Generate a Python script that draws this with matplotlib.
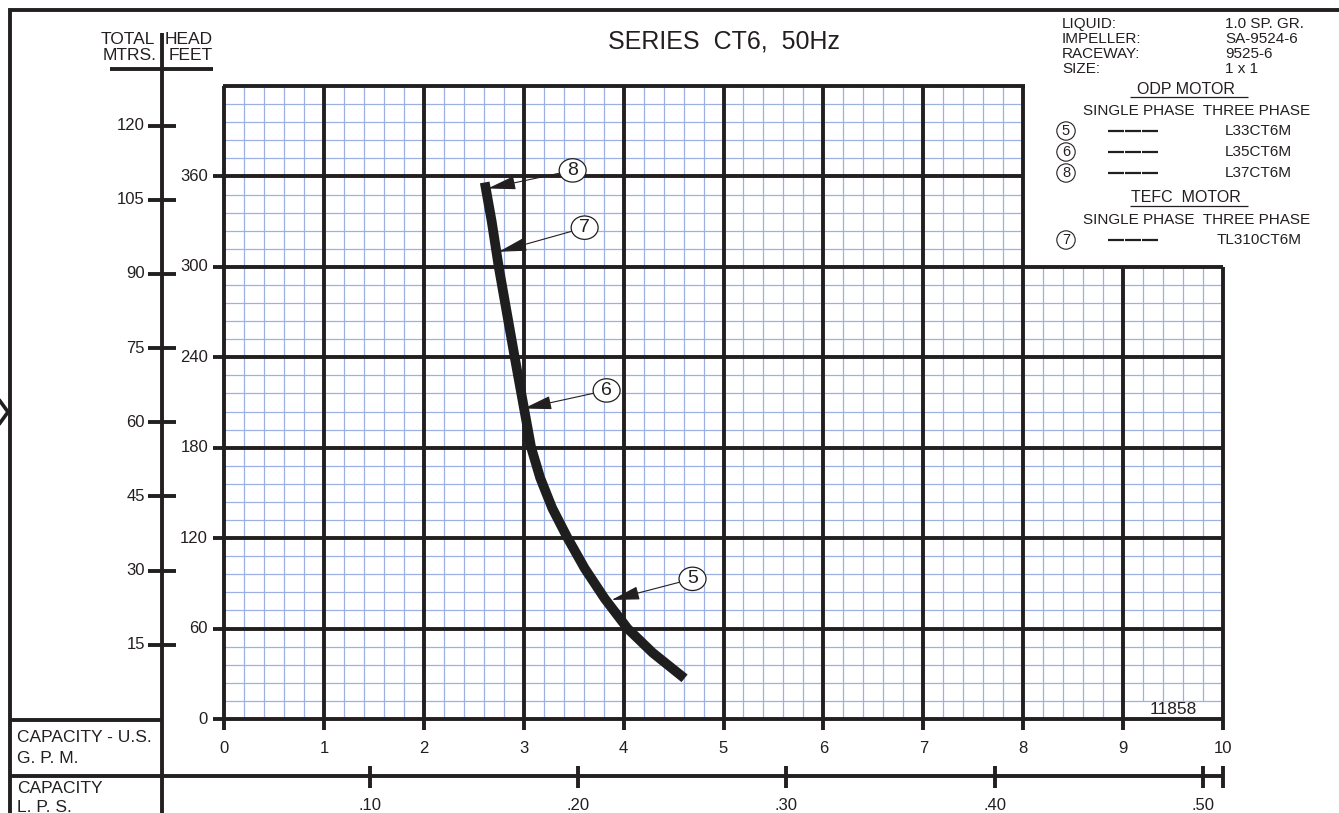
import numpy as np
import matplotlib
matplotlib.use('Agg')
import matplotlib.pyplot as plt
import matplotlib.transforms as mtransforms
from matplotlib.lines import Line2D
from matplotlib.patches import Ellipse

plt.rcParams['font.family'] = ['Liberation Sans', 'DejaVu Sans']

# pump curve (capacity in US gpm, head in feet)
gpm = [2.61, 2.68, 2.75, 2.83, 2.91, 2.965, 3.02, 3.075, 3.165, 3.285, 3.44,
       3.61, 3.81, 4.04, 4.29, 4.61]
head_ft = [356, 330, 300, 270, 240, 220, 200, 180, 160, 140, 120,
           100, 80, 60, 44, 27]

gpm_ticks = list(range(0, 11))
feet_ticks = [0, 60, 120, 180, 240, 300, 360]
mtrs_ticks = [15, 30, 45, 60, 75, 90, 105, 120]
lps_labels = ['.10', '.20', '.30', '.40', '.50']
lps_at_gpm = [1.46, 3.54, 5.63, 7.72, 9.80]

# callouts on the curve: number, point on curve, label position
callouts = [('8', (2.64, 352), (3.49, 364)),
            ('7', (2.75, 310), (3.61, 326)),
            ('6', (3.00, 206), (3.83, 218)),
            ('5', (3.88, 79), (4.69, 93))]

info_keys = ['LIQUID:', 'IMPELLER:', 'RACEWAY:', 'SIZE:']
info_vals = ['1.0 SP. GR.', 'SA-9524-6', '9525-6', '1 x 1']
odp_nums = ['5', '6', '8']
odp_models = ['L33CT6M', 'L35CT6M', 'L37CT6M']
tefc_nums = ['7']
tefc_models = ['TL310CT6M']

M_TO_FT = 3.2808
W, H = 1339, 813
ink = '#231f20'
minor_c = '#9cb0e2'

fig = plt.figure(figsize=(W / 100, H / 100), dpi=100)
ax = fig.add_axes([224 / W, 1 - 719 / H, 999 / W, (719 - 86) / H])
ax.set_xlim(0, 10)
ax.set_ylim(0, 420)
ax.axis('off')


def fx(x):
    return x / W


def fy(y):
    return 1 - y / H


def fline(xs, ys, lw=2.8, cap='projecting'):
    fig.add_artist(Line2D([fx(v) for v in xs], [fy(v) for v in ys],
                          transform=fig.transFigure, lw=lw, color=ink,
                          solid_capstyle=cap, solid_joinstyle='miter'))


def ftext(x, y, s, size=11, ha='left'):
    fig.text(fx(x), fy(y), s, fontsize=size, ha=ha, va='center', color=ink)


#
# grid
#
for x in np.arange(0.2, 10, 0.2):
    if abs(x - round(x)) < 1e-6:
        continue
    top = 420 if x < 8 else 300
    bot = 12 if x > 9 else 0
    ax.vlines(x, bot, top, color=minor_c, lw=0.9, zorder=1)
for y in range(12, 420, 12):
    if y % 60 == 0:
        continue
    right = 10 if y <= 300 else 8
    ax.hlines(y, 0, right, color=minor_c, lw=0.9, zorder=1)

tl = mtransforms.blended_transform_factory(ax.transData, fig.transFigure)
for g in gpm_ticks:
    top = 420 if g <= 8 else 300
    ax.vlines(g, -7, top, color=ink, lw=2.8, zorder=2, clip_on=False)
    ax.text(g, fy(748), str(g), fontsize=12, ha='center', va='center', color=ink,
            transform=tl)
for f in feet_ticks:
    right = 10 if f <= 300 else 8
    ax.hlines(f, -0.11, right, color=ink, lw=2.8, zorder=2, clip_on=False)
    ax.text(-0.16, f, str(f), fontsize=12, ha='right', va='center', color=ink)
ax.hlines(420, -0.014, 8.014, color=ink, lw=2.8, zorder=2, clip_on=False)

ax.text(9.5, 6.3, '11858', fontsize=12.5, ha='center', va='center', color=ink)

#
# curve + callouts
#
ax.plot(gpm, head_ft, color='#1e1e1e', lw=7, solid_capstyle='butt',
        solid_joinstyle='round', zorder=4)
for num, tip, pos in callouts:
    e = Ellipse(pos, 0.27, 15.5, fc='white', ec=ink, lw=0.9, zorder=5)
    ax.add_patch(e)
    ax.annotate(num, xy=tip, xytext=pos, fontsize=14, ha='center', va='center',
                zorder=6, color=ink,
                arrowprops=dict(arrowstyle='-|>,head_length=1.25,head_width=0.3',
                                lw=0.8, color=ink, shrinkA=0, shrinkB=0, patchA=e))

#
# metres scale on the left
#
tm = mtransforms.blended_transform_factory(fig.transFigure, ax.transData)
for m in mtrs_ticks:
    fig.add_artist(Line2D([fx(148), fx(176)], [m * M_TO_FT] * 2, transform=tm,
                          lw=2.8, color=ink, solid_capstyle='butt'))
    fig.text(fx(145), m * M_TO_FT, str(m), fontsize=12, ha='right', va='center',
             color=ink, transform=tm)

fline([162, 162], [33, 813], cap='butt')
fline([110, 213], [69, 69], cap='butt')
ftext(155, 39, 'TOTAL', 12.5, 'right')
ftext(213, 39, 'HEAD', 12.5, 'right')
ftext(157, 55, 'MTRS.', 12.5, 'right')
ftext(213, 55, 'FEET', 12.5, 'right')

#
# frame and capacity captions
#
fline([10, 10, 1339], [813, 10, 10])
fline([0, 8, 0], [401, 412, 423], lw=2.6)
fline([10, 162], [720, 720], cap='butt')
fline([10, 162], [776, 776], cap='butt')
ftext(17, 737, 'CAPACITY - U.S.', 12.5)
ftext(17, 758, 'G. P. M.', 12.5)
ftext(17, 788, 'CAPACITY', 12.5)
ftext(17, 807, 'L. P. S.', 12.5)

ax.add_artist(Line2D([-0.62, 10], [fy(776)] * 2, transform=tl, lw=2.8, color=ink,
                     solid_capstyle='butt', clip_on=False))
for lab, pos in zip(lps_labels, lps_at_gpm):
    ax.add_artist(Line2D([pos, pos], [fy(766), fy(788)], transform=tl, lw=2.8,
                         color=ink, solid_capstyle='butt', clip_on=False))
    ax.text(pos, fy(805), lab, fontsize=12, ha='center', va='center', color=ink,
            transform=tl)
ax.add_artist(Line2D([10, 10], [fy(766), fy(788)], transform=tl, lw=2.8,
                     color=ink, solid_capstyle='butt', clip_on=False))

#
# title and motor table
#
ftext(724, 41, 'SERIES  CT6,  50Hz', 18, 'center')

for i, (k, v) in enumerate(zip(info_keys, info_vals)):
    ftext(1062, 24 + 15 * i, k, 11)
    ftext(1225, 24 + 15 * i, v, 11)


def motor_block(title, y0, nums, models, model_x):
    ftext(1186, y0, title, 11.5, 'center')
    fline([1130, 1248], [y0 + 8.5, y0 + 8.5], lw=0.9, cap='butt')
    ftext(1197, y0 + 22, 'SINGLE PHASE  THREE PHASE', 11, 'center')
    for j, (n, mdl) in enumerate(zip(nums, models)):
        yy = y0 + 42 + 21 * j
        fig.text(fx(1066), fy(yy), n, fontsize=10.5, ha='center', va='center', color=ink,
                 bbox=dict(boxstyle='circle,pad=0.15', fc='white', ec=ink, lw=0.8))
        for d in range(3):
            fline([1108 + 17 * d, 1124 + 17 * d], [yy, yy], lw=1.6, cap='butt')
        ftext(model_x, yy, mdl, 11)


motor_block('ODP MOTOR', 89, odp_nums, odp_models, 1225)
motor_block('TEFC  MOTOR', 198, tefc_nums, tefc_models, 1217)

fig.savefig('out.png', dpi=100)
